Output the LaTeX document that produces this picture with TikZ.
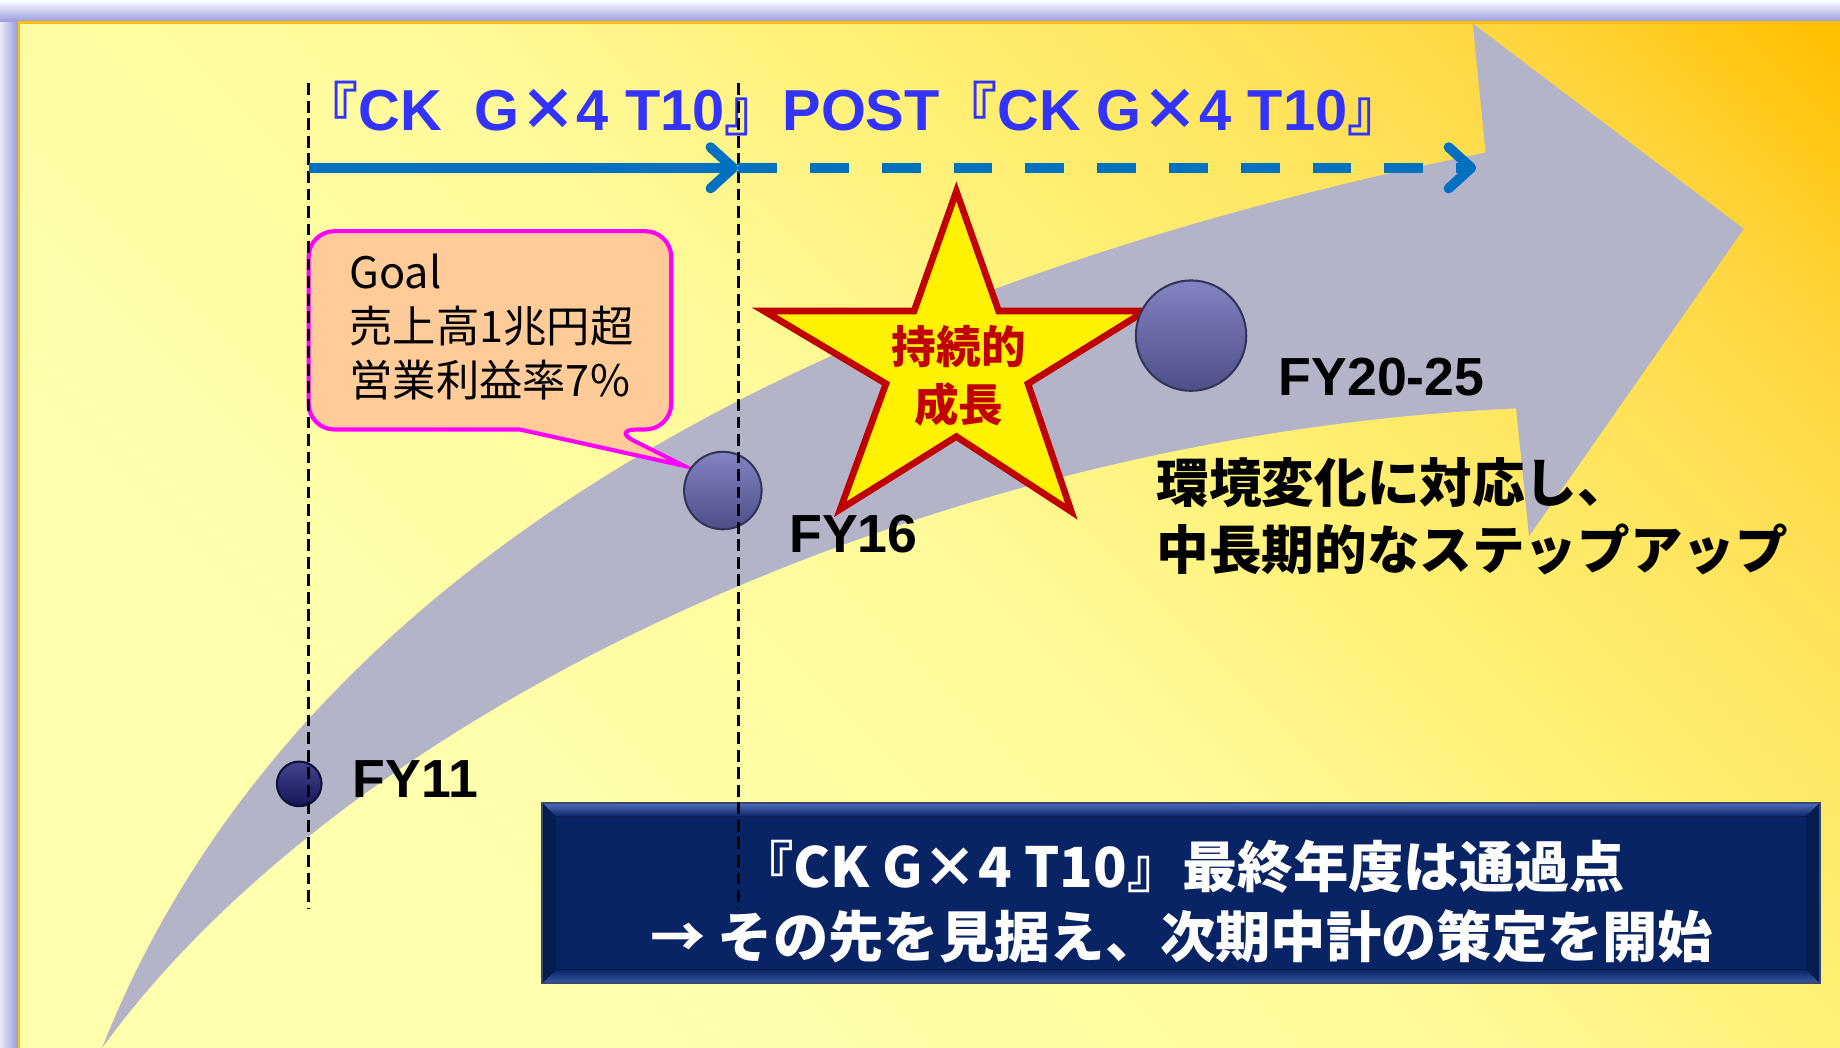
\documentclass[tikz,border=0pt]{standalone}
\usepackage{fontspec}
\setmainfont{Liberation Sans}
\newfontfamily\jp{Noto Sans CJK JP}
\usetikzlibrary{arrows.meta}
\definecolor{framelav}{RGB}{150,152,220}
\definecolor{framelite}{RGB}{232,232,248}
\definecolor{bgorange}{RGB}{255,192,0}
\definecolor{bgpale}{RGB}{255,255,174}
\definecolor{bgsoft}{RGB}{255,250,154}
\definecolor{bgwarm}{RGB}{255,242,122}
\definecolor{bgmid}{RGB}{255,230,96}
\definecolor{bggold}{RGB}{255,214,64}
\definecolor{bgdeep}{RGB}{255,192,0}
\definecolor{growthgray}{RGB}{179,180,200}
\definecolor{planblue}{RGB}{0,112,192}
\definecolor{titleblue}{RGB}{51,51,255}
\definecolor{starred}{RGB}{192,0,0}
\definecolor{goalfill}{RGB}{255,204,153}
\definecolor{goalline}{RGB}{255,0,255}
\definecolor{fyblue}{RGB}{104,104,182}
\definecolor{fydark}{RGB}{28,28,118}
\definecolor{boxnavy}{RGB}{8,36,100}
\definecolor{bevellite}{RGB}{80,110,190}
\pgfdeclarehorizontalshading{bgsweep}{100bp}{color(0bp)=(bgpale); color(30bp)=(bgpale);
  color(50bp)=(bgsoft); color(59bp)=(bgwarm); color(68bp)=(bgmid); color(77bp)=(bggold);
  color(85bp)=(bgdeep); color(100bp)=(bgdeep)}
\begin{document}
\begin{tikzpicture}[x=0.01cm,y=-0.01cm,
    guide/.style={black, line width=0.75pt, dash pattern=on 2.85pt off 1.4pt},
    plan/.style={planblue, line width=2.4pt, -{Straight Barb[round,length=5.5pt,width=10pt]}},
    fyball/.style={circle, inner sep=0pt, draw=#1!50!black, line width=0.5pt, top color=#1!82!white, bottom color=#1!75!black},
    fylabel/.style={anchor=base west, inner sep=0pt, font=\bfseries\fontsize{13}{15}\selectfont},
    titletext/.style={anchor=base, inner sep=0pt, text=titleblue, font=\bfseries\fontsize{14}{16}\selectfont},
    goaltext/.style={anchor=west, inner sep=0pt, align=left, font=\jp\fontsize{10.5}{13.1}\selectfont},
    startext/.style={inner sep=0pt, align=center, text=starred, font=\jp\bfseries\fontsize{10.8}{14}\selectfont},
    steptext/.style={anchor=west, inner sep=0pt, align=left, font=\jp\bfseries\fontsize{12.75}{16.2}\selectfont},
    boxtext/.style={inner sep=0pt, align=center, text=white, font=\jp\bfseries\fontsize{13.4}{17}\selectfont}]
  \useasboundingbox (0,0) rectangle (1568,893);
  % frame and background
  \shade[top color=white, bottom color=framelav] (0,0) rectangle (1568,19);
  \shade[left color=framelite, right color=framelav] (0,19) rectangle (16,893);
  \shade[shading=bgsweep, shading angle=45] (16,19) rectangle (1568,893);
  \draw[bgorange, line width=0.6pt] (16,893) -- (16,19) -- (1568,19);
  % growth arrow
  \fill[growthgray] (87,893) .. controls (250,480) and (700,245) .. (1266,130) -- (1255,20) -- (1486,195)
    -- (1303,457) -- (1292,348) .. controls (800,370) and (300,600) .. (87,893) -- cycle;
  % goal callout
  \draw[goalline, fill=goalfill, line width=1pt] (443,366) [rounded corners=0.22cm] -- (263,366) -- (263,197)
    -- (572,197) -- (572,366) -- (521,366) [sharp corners] -- (583,397) -- cycle;
  \node[goaltext] (goal) at (297,279) {Goal\\売上高1兆円超\\営業利益率7\%};
  % star
  \draw[starred, fill=yellow, line width=1.6pt] (815,163) -- (851,265) -- (976,265) -- (876,327) -- (913,436)
    -- (815,372) -- (716,434) -- (755,327) -- (651,265) -- (779,265) -- cycle;
  \node[startext] (growth) at (817,320) {持続的\\成長};
  % milestones
  \node[fyball=fydark, minimum size=0.38cm] (p11) at (255,668) {};
  \node[fyball=fyblue, minimum size=0.66cm] (p16) at (616,418) {};
  \node[fyball=fyblue, minimum size=0.94cm] (p20) at (1015,286) {};
  \node[fylabel] (l11) at (300,680) {FY11};
  \node[fylabel] (l16) at (672,471) {FY16};
  \node[fylabel] (l20) at (1089,337) {FY20-25};
  \node[steptext] (step) at (985,440) {環境変化に対応し、\\中長期的なステップアップ};
  % message box
  \fill[boxnavy] (462,684) rectangle (1551,838);
  \fill[top color=bevellite, bottom color=boxnavy] (462,684) -- (1551,684) -- (1539,696) -- (474,696) -- cycle;
  \fill[boxnavy!80!black] (462,684) -- (474,696) -- (474,826) -- (462,838) -- cycle;
  \fill[boxnavy!80!black] (1551,684) -- (1539,696) -- (1539,826) -- (1551,838) -- cycle;
  \fill[top color=boxnavy, bottom color=bevellite!70!boxnavy] (462,838) -- (474,826) -- (1539,826) -- (1551,838) -- cycle;
  \draw[boxnavy!60!gray, line width=0.5pt] (462,684) rectangle (1551,838);
  \node[boxtext] (final) at (1007,768) {『CK G×4 T10』最終年度は通過点\\→ その先を見据え、次期中計の策定を開始};
  % title and plan arrows
  \node[titletext] (title) at (727,111) {{\jp 『}CK\ \ G{\jp ×}4 T10{\jp 』}POST{\jp 『}CK G{\jp ×}4 T10{\jp 』}};
  \coordinate (g11top) at (263,71);
  \coordinate (g11bot) at (263,775);
  \coordinate (g16top) at (629,71);
  \coordinate (g16bot) at (629,775);
  \coordinate (a0) at (263,143);
  \coordinate (a1) at (629,143);
  \coordinate (a2) at (1258,143);
  \draw[guide] (g11top) -- (g11bot);
  \draw[guide] (g16top) -- (g16bot);
  \draw[plan] (a0) -- (a1);
  \draw[plan, dash pattern=on 9.4pt off 8pt] (a1) -- (a2);
\end{tikzpicture}
\end{document}
